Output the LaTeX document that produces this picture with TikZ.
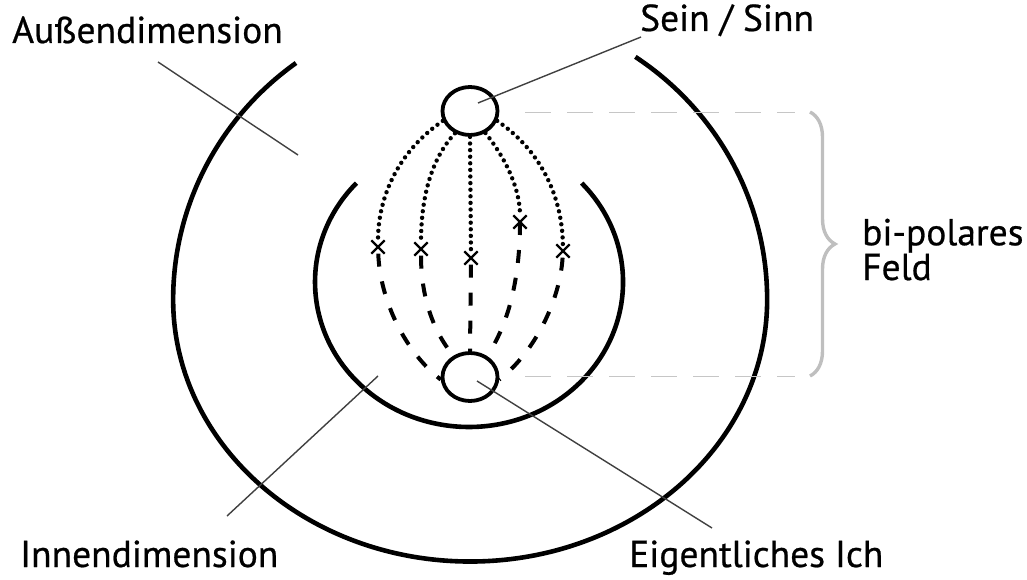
\documentclass[tikz,border=0pt]{standalone}
\usepackage{fontspec}
\setmainfont{PT Sans}[FakeBold=0.6]
\usetikzlibrary{shapes.geometric,shapes.misc,decorations.pathreplacing}
\begin{document}
\begin{tikzpicture}[x=1pt,y=-1pt,
  bigarc/.style={line width=4.6pt},
  ring/.style={draw, ellipse, line width=3.8pt, minimum width=55pt, minimum height=48pt, inner sep=0pt},
  xmark/.style={draw, cross out, line width=2.3pt, minimum size=11pt, inner sep=0pt},
  dotline/.style={line width=4.4pt, line cap=round, dash pattern=on 0pt off 6.6pt},
  dashline/.style={line width=4pt, dash pattern=on 13pt off 15pt},
  leader/.style={line width=1.4pt, black!75},
  guide/.style={line width=1pt, gray!45, dash pattern=on 26pt off 16pt},
  bracestyle/.style={line width=3.4pt, gray!50, decorate, decoration={brace, amplitude=25pt}},
  lbl/.style={inner sep=0pt, font=\fontsize{37.5}{33}\selectfont}]
\useasboundingbox (0,0) rectangle (1027,580);

% outer and inner arcs
\draw[bigarc] (296,63) arc[start angle=234.1, end angle=180, x radius=297, y radius=292]
  arc[start angle=180, end angle=0, x radius=297, y radius=262]
  arc[start angle=0, end angle=-56.2, x radius=297, y radius=292];
\draw[bigarc] (356.4,183.1) arc[start angle=223, end angle=-43, x radius=154, y radius=145];

% poles
\node[ring] (top) at (470,111) {};
\node[ring] (bot) at (470,377) {};

% crosses
\node[xmark] (x1) at (378,247) {};
\node[xmark] (x2) at (421,249) {};
\node[xmark] (x3) at (471,258) {};
\node[xmark] (x4) at (520,222) {};
\node[xmark] (x5) at (563,251) {};

% dotted part
\draw[dotline] (top.200) .. controls (400,150) and (378,195) .. (x1);
\draw[dotline] (top.236) .. controls (430,160) and (421,200) .. (x2);
\draw[dotline] (top.270) -- (x3);
\draw[dotline] (top.305) .. controls (507,160) and (520,190) .. (x4);
\draw[dotline] (top.340) .. controls (540,150) and (562,195) .. (x5);

% dashed part
\draw[dashline] (x1) .. controls (380,300) and (405,352) .. (bot.185);
\draw[dashline] (x2) .. controls (421,295) and (432,330) .. (bot.128);
\draw[dashline] (x3) -- (bot.90);
\draw[dashline] (x4.center) .. controls (520,280) and (508,325) .. (bot.51);
\draw[dashline] (x5) .. controls (560,300) and (535,352) .. (bot.355);

% guides and brace
\coordinate (g1a) at (525,113); \coordinate (g1b) at (795,113);
\coordinate (g2a) at (525,376); \coordinate (g2b) at (795,376);
\draw[guide] (g1a) -- (g1b);
\draw[guide] (g2a) -- (g2b);
\coordinate (br1) at (810,112); \coordinate (br2) at (810,376);
\draw[bracestyle] (br1) -- (br2);

% labels
\node[lbl, anchor=base west] (aussen) at (12,43) {Außendimension};
\node[lbl, anchor=base west] (sein) at (640,31) {Sein / Sinn};
\node[lbl, anchor=base west, align=left] (bipol) at (862,280) {bi-polares\\Feld};
\node[lbl, anchor=base west] (innen) at (20,567) {Innendimension};
\node[lbl, anchor=base west] (eig) at (629,567) {Eigentliches Ich};

% leaders
\coordinate (aA) at (158,62); \coordinate (aB) at (298,155);
\coordinate (sA) at (478,103); \coordinate (sB) at (641,37);
\coordinate (iA) at (378,376); \coordinate (iB) at (227,516);
\coordinate (eA) at (477,381); \coordinate (eB) at (712,528);
\draw[leader] (aA) -- (aB);
\draw[leader] (sA) -- (sB);
\draw[leader] (iA) -- (iB);
\draw[leader] (eA) -- (eB);
\end{tikzpicture}
\end{document}
